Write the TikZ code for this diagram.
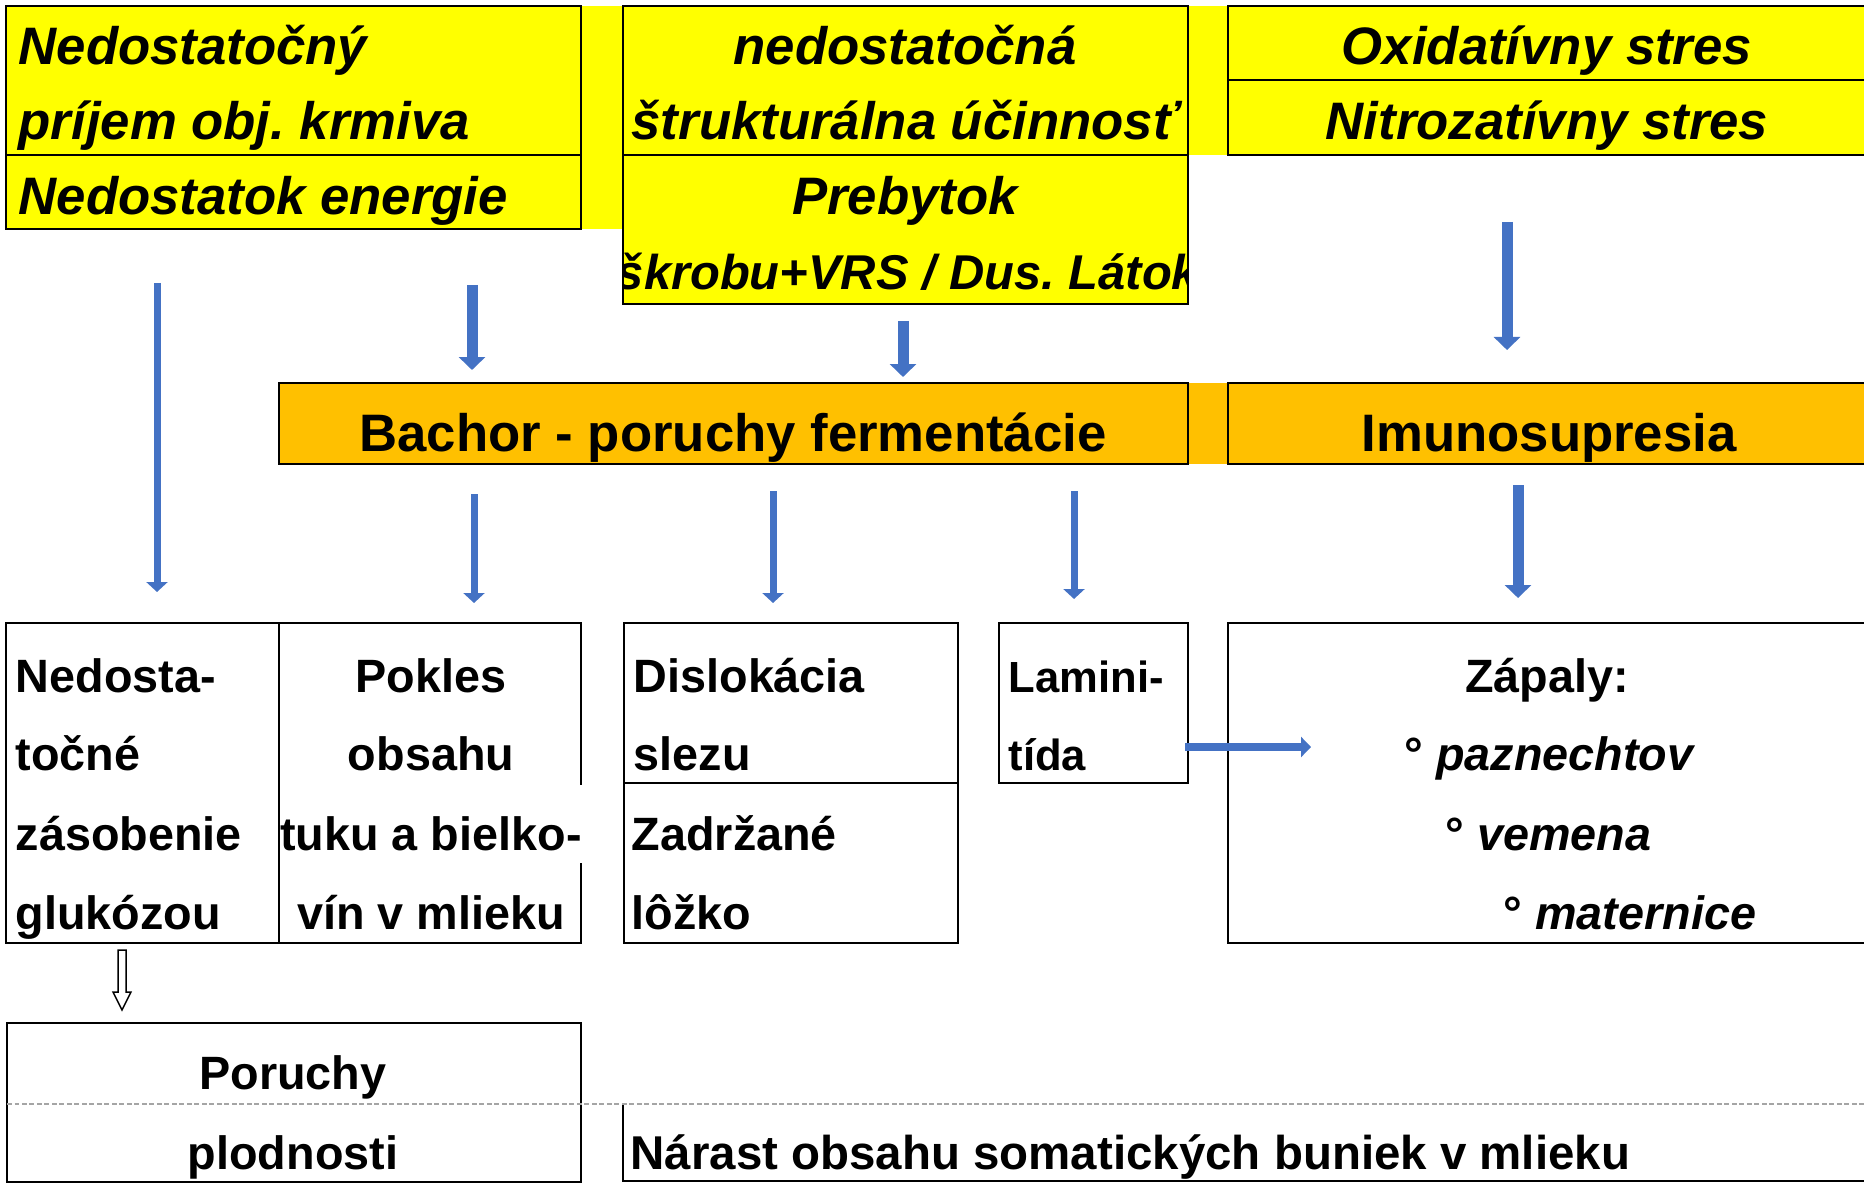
\documentclass[tikz,border=0pt]{standalone}
\usepackage{fontspec}
\setmainfont{Liberation Sans}
\usetikzlibrary{arrows.meta,calc}
\frenchspacing

\definecolor{cellyellow}{RGB}{255,255,0}
\definecolor{cellorange}{RGB}{255,192,0}
\definecolor{arrowblue}{RGB}{68,114,196}
\definecolor{dashgray}{RGB}{165,165,165}

\tikzset{
  cell/.style={draw=black, line width=0.28mm},
  toptext/.style={inner sep=0pt, font=\fontsize{15}{18}\selectfont\bfseries\itshape},
  bartext/.style={inner sep=0pt, font=\fontsize{15}{18}\selectfont\bfseries},
  lowtext/.style={inner sep=0pt, font=\fontsize{13.3}{16}\selectfont\bfseries},
  smalltext/.style={inner sep=0pt, font=\fontsize{12.4}{15}\selectfont\bfseries},
  thinarrow/.style={arrowblue, line width=0.7mm, -{Triangle[width=2.1mm,length=1mm]}},
  thickarrow/.style={arrowblue, line width=1.1mm, -{Triangle[width=2.6mm,length=1.3mm]}},
}

\begin{document}
\begin{tikzpicture}[x=0.1mm, y=-0.1mm]
            \clip (0,0) rectangle (1864,1183);
            % top row
            \fill[cellyellow] (581,6) rectangle (623,229);
            \fill[cellyellow] (1188,6) rectangle (1228,155);
            \filldraw[cell, fill=cellyellow] (6,6) rectangle (581,229);
            \draw[cell] (6,155) -- (581,155);
            \filldraw[cell, fill=cellyellow] (623,6) rectangle (1188,304);
            \draw[cell] (623,155) -- (1188,155);
            \filldraw[cell, fill=cellyellow] (1228,6) rectangle (1880,155);
            \draw[cell] (1228,80) -- (1880,80);
            \node[toptext, anchor=base west] (intake1) at (18,65) {Nedostatočný};
            \node[toptext, anchor=base west] (intake2) at (18,140) {príjem obj. krmiva};
            \node[toptext, anchor=base west] (energy) at (18,215) {Nedostatok energie};
            \node[toptext, anchor=base] (fiber1) at (905,65) {nedostatočná};
            \node[toptext, anchor=base] (fiber2) at (905,140) {štrukturálna účinnosť};
            \node[toptext, anchor=base] (surplus1) at (905,215) {Prebytok};
            \begin{scope}
                \clip (623,155) rectangle (1188,304);
                \node[toptext, anchor=base, font=\fontsize{13.9}{17}\selectfont\bfseries\itshape] (surplus2) at (908,290) {škrobu+VRS / Dus. Látok};
            \end{scope}
            \node[toptext, anchor=base] (oxid) at (1547,65) {Oxidatívny stres};
            \node[toptext, anchor=base] (nitro) at (1547,140) {Nitrozatívny stres};
            % middle row
            \fill[cellorange] (1188,383) rectangle (1228,464);
            \filldraw[cell, fill=cellorange] (279,383) rectangle (1188,464);
            \filldraw[cell, fill=cellorange] (1228,383) rectangle (1880,464);
            \node[bartext, anchor=base] (rumen) at (733,451) {Bachor - poruchy fermentácie};
            \node[bartext, anchor=base] (immuno) at (1549,451) {Imunosupresia};
            % bottom boxes
            \draw[cell] (6,623) rectangle (279,943);
            \draw[cell] (279,623) -- (581,623) -- (581,785) (581,863) -- (581,943) -- (279,943);
            \draw[cell] (624,623) rectangle (958,943);
            \draw[cell] (624,783) -- (958,783);
            \draw[cell] (999,623) rectangle (1188,783);
            \draw[cell] (1228,623) rectangle (1880,943);
            \node[lowtext, anchor=base west] (gluc1) at (15,692) {Nedosta-};
            \node[lowtext, anchor=base west] (gluc2) at (15,770) {točné};
            \node[lowtext, anchor=base west] (gluc3) at (15,850) {zásobenie};
            \node[lowtext, anchor=base west] (gluc4) at (15,929) {glukózou};
            \node[lowtext, anchor=base] (milk1) at (431,692) {Pokles};
            \node[lowtext, anchor=base] (milk2) at (431,770) {obsahu};
            \node[lowtext, anchor=base] (milk3) at (431,850) {tuku a bielko-};
            \node[lowtext, anchor=base] (milk4) at (431,929) {vín v mlieku};
            \node[lowtext, anchor=base west] (abom1) at (633,692) {Dislokácia};
            \node[lowtext, anchor=base west] (abom2) at (633,770) {slezu};
            \node[lowtext, anchor=base west] (plac1) at (631,850) {Zadržané};
            \node[lowtext, anchor=base west] (plac2) at (631,929) {lôžko};
            \node[smalltext, anchor=base west] (lamin1) at (1008,692) {Lamini-};
            \node[smalltext, anchor=base west] (lamin2) at (1008,770) {tída};
            \node[lowtext, anchor=base] (infl) at (1547,692) {Zápaly:};
            \node[lowtext, anchor=base west] (hoof) at (1404,770) {° \textit{paznechtov}};
            \node[lowtext, anchor=base west] (udder) at (1445,850) {° \textit{vemena}};
            \node[lowtext, anchor=base west] (uterus) at (1503,929) {° \textit{maternice}};
            % last row
            \draw[cell] (7,1182) -- (7,1023) -- (581,1023) -- (581,1182) -- cycle;
            \draw[cell, line width=0.22mm] (1880,1181) -- (623,1181) -- (623,1104);
            \draw[dashgray, line width=0.25mm, dash pattern=on 0.5mm off 0.25mm] (7,1104) -- (1864,1104);
            \node[lowtext, anchor=base] (fert1) at (293,1089) {Poruchy};
            \node[lowtext, anchor=base] (fert2) at (293,1169) {plodnosti};
            \node[lowtext, anchor=base west, font=\fontsize{13.5}{16}\selectfont\bfseries] (scc) at (630,1169) {Nárast obsahu somatických buniek v mlieku};
            % arrows
            \coordinate (a1s) at (157,283);  \coordinate (a1e) at (157,592);
            \coordinate (a2s) at (472,285);  \coordinate (a2e) at (472,370);
            \coordinate (a3s) at (903,321);  \coordinate (a3e) at (903,377);
            \coordinate (a4s) at (1507,222); \coordinate (a4e) at (1507,350);
            \coordinate (a5s) at (474,494);  \coordinate (a5e) at (474,603);
            \coordinate (a6s) at (773,491);  \coordinate (a6e) at (773,603);
            \coordinate (a7s) at (1074,491); \coordinate (a7e) at (1074,599);
            \coordinate (a8s) at (1518,485); \coordinate (a8e) at (1518,598);
            \coordinate (a9s) at (1185,747); \coordinate (a9e) at (1311,747);
            \draw[thinarrow] (a1s) -- (a1e);
            \draw[thickarrow] (a2s) -- (a2e);
            \draw[thickarrow] (a3s) -- (a3e);
            \draw[thickarrow] (a4s) -- (a4e);
            \draw[thinarrow] (a5s) -- (a5e);
            \draw[thinarrow] (a6s) -- (a6e);
            \draw[thinarrow] (a7s) -- (a7e);
            \draw[thickarrow] (a8s) -- (a8e);
            \draw[arrowblue, line width=0.8mm, -{Triangle[width=2mm,length=1mm]}] (a9s) -- (a9e);
            % hollow arrow
            \coordinate (h1) at (122,950);
            \coordinate (h2) at (122,1010);
            \draw[fill=white, line width=0.15mm] ($(h1)+(-4,0)$) -- ($(h2)+(-4,-18)$) -- ($(h2)+(-9,-18)$) -- (h2) -- ($(h2)+(9,-18)$) -- ($(h2)+(4,-18)$) -- ($(h1)+(4,0)$) -- cycle;
        \end{tikzpicture}
\end{document}
